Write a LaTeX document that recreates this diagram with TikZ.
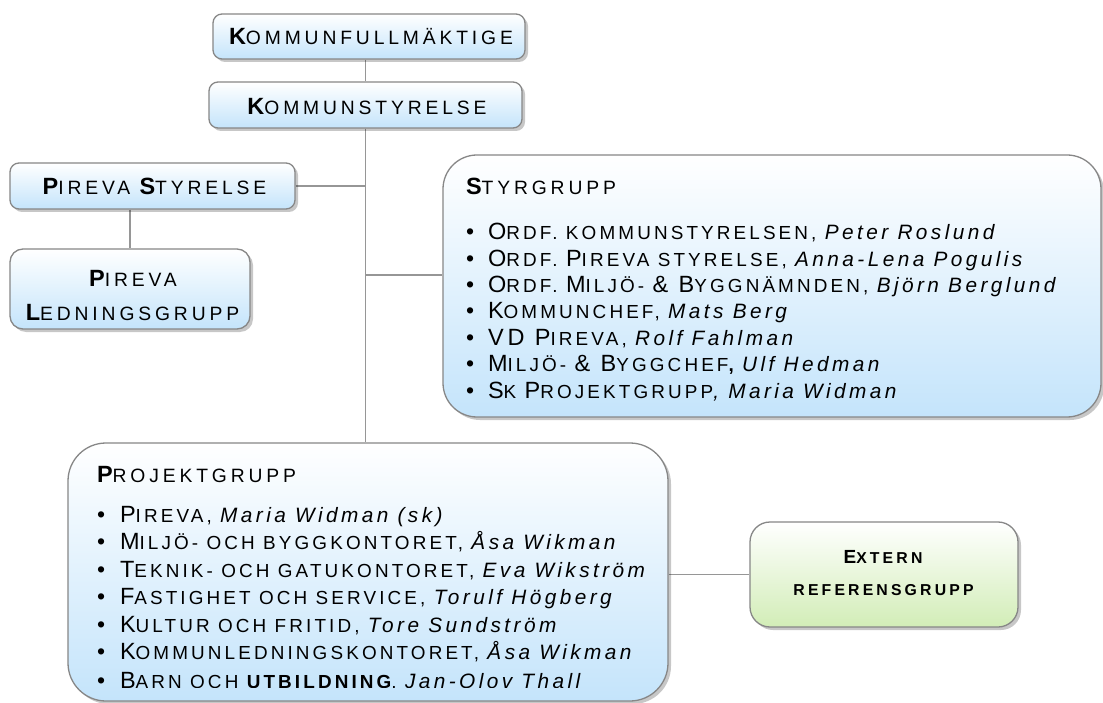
\documentclass[tikz,border=0pt]{standalone}
\usepackage{fontspec}
\setmainfont{Liberation Sans}
\newfontfamily\boxfont{Liberation Sans}[LetterSpace=20]
\newfontfamily\listfont{Liberation Sans}[LetterSpace=16.5]
\usetikzlibrary{shadows}
\pgfdeclarelayer{background}
\pgfsetlayers{background,main}
\definecolor{bluebot}{RGB}{196,228,251}
\definecolor{greenbot}{RGB}{210,237,183}
\definecolor{edgegray}{RGB}{135,135,135}
\definecolor{linegray}{RGB}{150,150,150}
\newcommand\kBC[1]{{\fontsize{23.5}{27}\selectfont #1}}
\newcommand\kBB[1]{{\fontsize{23.5}{27}\selectfont\bfseries #1}}
\newcommand\kTS[1]{{\fontsize{19.3}{22}\selectfont #1}}
\newcommand\kSC[1]{{\fontsize{18.9}{22}\selectfont #1}}
\newcommand\kSB[1]{{\fontsize{18.9}{22}\selectfont\bfseries #1}}
\newcommand\kIT[1]{{\fontsize{20.8}{24}\selectfont\itshape #1}}
\newcommand\kXB[1]{{\fontsize{19}{22}\selectfont\bfseries #1}}
\newcommand\kXS[1]{{\fontsize{15.8}{18}\selectfont\bfseries #1}}
\newcommand\kBul[1]{\makebox[#1][l]{\fontsize{23}{26}\selectfont •}}
\begin{document}
\begin{tikzpicture}[x=1pt,y=-1pt,
  box/.style={draw=edgegray, line width=1.3pt, rounded corners=9pt,
    top color=white, bottom color=bluebot, inner sep=0pt,
    drop shadow={shadow xshift=3pt, shadow yshift=-3pt, opacity=0.22, fill=black}},
  gbox/.style={box, bottom color=greenbot},
  lbl/.style={inner sep=0pt, outer sep=0pt, text=black},
  conn/.style={draw=linegray, line width=1.5pt}]
\useasboundingbox (0,0) rectangle (1103,703);

% boxes
\node[box, minimum width=312pt, minimum height=45pt] (kf) at (369,36.5) {};
\node[box, minimum width=313pt, minimum height=46pt] (ks) at (365.5,105) {};
\node[box, minimum width=285pt, minimum height=46pt] (ps) at (152.5,186) {};
\node[box, rounded corners=13pt, minimum width=240pt, minimum height=80pt] (pl) at (130,289) {};
\node[box, rounded corners=34pt, minimum width=658pt, minimum height=262pt] (sg) at (772,286) {};
\node[box, rounded corners=38pt, minimum width=600pt, minimum height=258pt] (pg) at (368,572) {};
\node[gbox, rounded corners=20pt, minimum width=268pt, minimum height=105pt] (ex) at (884,574.5) {};

% connectors
\coordinate (j2y) at (0,275);
\begin{pgfonlayer}{background}
\fill[white] (0,0) rectangle (1103,703);
\draw[conn] (kf.south -| ks.south) -- (ks.north);
\draw[conn] (ks.south) -- (ks.south |- pg.north);
\draw[conn] (ps.east) -- (ps.east -| ks.south);
\draw[conn] (ks.south |- j2y) -- (sg.west |- j2y);
\draw[conn] (ps.south -| pl.north) -- (pl.north);
\draw[conn] (pg.east |- ex.west) -- (ex.west);
\end{pgfonlayer}

% box labels
\node[lbl, anchor=base] (kft) at (371,45) {\boxfont\kBB{K}\kTS{OMMUNFULLMÄKTIGE}};
\node[lbl, anchor=base] (kst) at (367,115) {\boxfont\kBB{K}\kTS{OMMUNSTYRELSE}};
\node[lbl, anchor=base] (pst) at (154.5,195) {\boxfont\kBB{P}\kTS{IREVA }\kBB{S}\kTS{TYRELSE}};
\node[lbl, anchor=base] (plt1) at (133,287) {\boxfont\kBB{P}\kTS{IREVA}};
\node[lbl, anchor=base] (plt2) at (132.5,320) {\boxfont\kBB{L}\kTS{EDNINGSGRUPP}};
\node[lbl, anchor=base] (ext1) at (883,563) {\boxfont\kXB{E}\kXS{XTERN}};
\node[lbl, anchor=base] (ext2) at (883.5,595) {\boxfont\kXS{REFERENSGRUPP}};

% Styrgrupp
\node[lbl, anchor=base west] (sgh) at (466,195) {\boxfont\kBB{S}\kTS{TYRGRUPP}};
\node[lbl, anchor=base west] (sg1) at (466,240) {\listfont\kBul{22pt}\kBC{O}\kSC{RDF. KOMMUNSTYRELSEN, }\kIT{Peter Roslund}};
\node[lbl, anchor=base west] (sg2) at (466,266.3) {\listfont\kBul{22pt}\kBC{O}\kSC{RDF. }\kBC{P}\kSC{IREVA STYRELSE, }\kIT{Anna-Lena Pogulis}};
\node[lbl, anchor=base west] (sg3) at (466,292.6) {\listfont\kBul{22pt}\kBC{O}\kSC{RDF. }\kBC{M}\kSC{ILJÖ- }\kBC{\& B}\kSC{YGGNÄMNDEN, }\kIT{Björn Berglund}};
\node[lbl, anchor=base west] (sg4) at (466,319) {\listfont\kBul{22pt}\kBC{K}\kSC{OMMUNCHEF, }\kIT{Mats Berg}};
\node[lbl, anchor=base west] (sg5) at (466,345.3) {\listfont\kBul{22pt}\kBC{VD P}\kSC{IREVA, }\kIT{Rolf Fahlman}};
\node[lbl, anchor=base west] (sg6) at (466,371.6) {\listfont\kBul{22pt}\kBC{M}\kSC{ILJÖ- }\kBC{\& B}\kSC{YGGCHEF}\kSB{, }\kIT{Ulf Hedman}};
\node[lbl, anchor=base west] (sg7) at (466,398) {\listfont\kBul{22pt}\kBC{S}\kSC{K }\kBC{P}\kSC{ROJEKTGRUPP}\kIT{, Maria Widman}};

% Projektgrupp
\node[lbl, anchor=base west] (pgh) at (97,482) {\boxfont\kBB{P}\kTS{ROJEKTGRUPP}};
\node[lbl, anchor=base west] (pg1) at (97,522.5) {\listfont\kBul{23pt}\kBC{P}\kSC{IREVA, }\kIT{Maria Widman (sk)}};
\node[lbl, anchor=base west] (pg2) at (97,549.5) {\listfont\kBul{23pt}\kBC{M}\kSC{ILJÖ- OCH BYGGKONTORET, }\kIT{Åsa Wikman}};
\node[lbl, anchor=base west] (pg3) at (97,577) {\listfont\kBul{23pt}\kBC{T}\kSC{EKNIK- OCH GATUKONTORET, }\kIT{Eva Wikström}};
\node[lbl, anchor=base west] (pg4) at (97,604.5) {\listfont\kBul{23pt}\kBC{F}\kSC{ASTIGHET OCH SERVICE, }\kIT{Torulf Högberg}};
\node[lbl, anchor=base west] (pg5) at (97,632) {\listfont\kBul{23pt}\kBC{K}\kSC{ULTUR OCH FRITID, }\kIT{Tore Sundström}};
\node[lbl, anchor=base west] (pg6) at (97,659.5) {\listfont\kBul{23pt}\kBC{K}\kSC{OMMUNLEDNINGSKONTORET, }\kIT{Åsa Wikman}};
\begin{scope}
\clip (0,0) rectangle (1103,687);
\node[lbl, anchor=base west] (pg7) at (97,688.5) {\listfont\kBul{23pt}\kBC{B}\kSC{ARN OCH }\kSB{UTBILDNING}\kSC{, }\kIT{Jan-Olov Thall}};
\end{scope}
\end{tikzpicture}
\end{document}
